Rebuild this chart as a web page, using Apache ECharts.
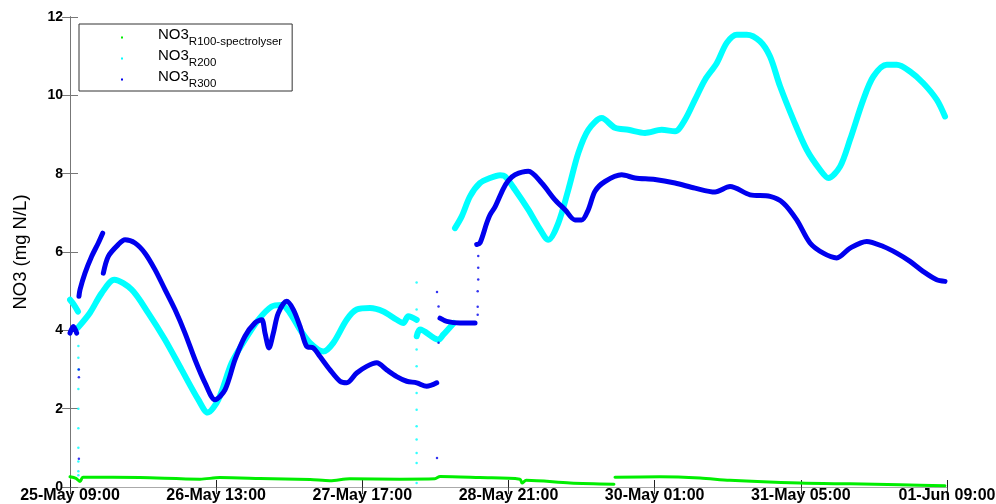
<!DOCTYPE html>
<html>
<head>
<meta charset="utf-8">
<script src="https://cdn.jsdelivr.net/npm/echarts@6/dist/echarts.min.js"></script>
<style>html,body{margin:0;padding:0;background:#fff;}#c{width:996px;height:504px;}</style>
</head>
<body>
<div id="c"></div>
<script>
// x values: hours after 25-May 09:00
const xTickLabels = ['25-May 09:00','26-May 13:00','27-May 17:00','28-May 21:00','30-May 01:00','31-May 05:00','01-Jun 09:00'];
const yTicks = [0, 2, 4, 6, 8, 10, 12];

// NO3 R100-spectrolyser (null = gap)
const r100 = [
  [0,0.26],[1.15,0.22],[1.92,0.14],[2.49,0.25],[13.4,0.24],[24.9,0.20],[28.7,0.24],[36.4,0.22],
  [46,0.19],[49.8,0.16],[53.6,0.21],[63.2,0.20],[69.9,0.21],[70.9,0.27],[78.5,0.24],[86.2,0.20],
  [86.6,0.10],[87.4,0.17],[95.8,0.10],[104.2,0.07],
  null,
  [104.4,0.25],[113,0.26],[120.7,0.23],[126.4,0.17],[139.8,0.10],[149.4,0.08],[159,0.06],[167.6,0.03]
];

// NO3 R200
const r200 = [
  [0,4.78],[0.77,4.65],[1.53,4.48],
  null,
  [1.53,4.07],[3.83,4.45],[6.07,4.95],[8.49,5.29],[11.82,5.04],[15.0,4.44],[18.2,3.76],[21.4,2.99],
  [24.58,2.23],[26.38,1.90],[28.41,2.23],[30.98,3.17],[33.52,3.76],[36.07,4.27],[38.64,4.61],[40.56,4.65],
  [42.15,4.44],[44.06,4.02],[45.98,3.68],[48.52,3.46],[50.44,3.68],[53.0,4.27],[54.92,4.53],[57.47,4.57],
  [60.02,4.48],[62.59,4.27],[63.85,4.19],[64.81,4.36],[66.42,4.27],
  null,
  [66.42,3.85],[67.05,4.02],[70.55,3.76],[71.51,3.89],[73.52,4.19],
  null,
  [73.75,6.61],[75.04,6.91],[76.63,7.42],[78.54,7.76],[80.46,7.89],[82.38,7.96],[83.33,7.93],[85.25,7.59],
  [87.8,7.08],[89.71,6.65],[91.63,6.31],[93.54,6.74],[95.46,7.59],[97.38,8.53],[99.29,9.12],[101.86,9.42],
  [104.4,9.17],[106.95,9.12],[110.15,9.04],[113.35,9.12],[115.9,9.08],[117.82,9.38],[119.73,9.89],[121.65,10.40],
  [123.89,10.82],[125.8,11.34],[127.72,11.55],[129.64,11.55],[132.18,11.38],[134.1,10.99],[136.02,10.23],
  [138.56,9.38],[141.13,8.61],[143.68,8.10],[145.27,7.89],[147.51,8.18],[149.43,8.87],[151.97,9.89],
  [153.89,10.48],[156.46,10.78],[158.37,10.78],[160.92,10.61],[163.47,10.31],[166.03,9.89],[167.62,9.46]
];

// NO3 R300
const r300 = [
  [0,3.93],[0.64,4.10],[1.28,3.93],
  null,
  [1.72,4.87],[1.92,5.04],[2.87,5.46],[4.16,5.89],[5.42,6.23],[6.26,6.48],
  null,
  [6.38,5.46],[7.34,5.89],[9.25,6.19],[10.54,6.31],[12.45,6.23],[14.37,5.97],[16.28,5.55],[18.2,5.04],
  [20.11,4.53],[22.03,3.93],[23.95,3.25],[25.86,2.66],[27.78,2.23],[29.69,2.48],[31.61,3.25],[33.52,3.85],
  [35.44,4.19],[36.72,4.27],[37.36,3.93],[38.12,3.55],[38.95,3.93],[39.9,4.44],[41.51,4.74],[42.78,4.53],
  [44.06,4.10],[45.34,3.59],[46.61,3.55],[47.89,3.33],[49.81,2.99],[51.72,2.70],[53.0,2.66],[54.92,2.91],
  [56.84,3.08],[58.76,3.17],[60.67,2.99],[62.59,2.82],[64.5,2.70],[66.42,2.66],[68.33,2.57],[70.25,2.66],
  null,
  [70.88,4.31],[72.16,4.23],[74.71,4.19],[77.59,4.19],
  null,
  [77.91,6.19],[78.54,6.23],[79.83,6.74],[80.46,6.95],[81.42,7.15],[82.95,7.6],[83.97,7.82],[85.25,7.97],
  [87.8,8.06],[90.36,7.76],[92.91,7.33],[94.83,7.08],[96.74,6.82],[98.02,6.82],[99.29,7.08],[100.57,7.55],
  [102.49,7.80],[105.68,7.97],[108.24,7.89],[112.07,7.85],[115.9,7.76],[119.73,7.63],[123.56,7.53],
  [126.44,7.67],[130.27,7.46],[134.1,7.42],[136.65,7.25],[139.21,6.82],[141.76,6.23],[144.31,5.97],
  [146.88,5.85],[149.43,6.10],[152.62,6.27],[155.81,6.14],[158.37,5.97],[160.92,5.76],[163.47,5.50],
  [166.03,5.29],[167.62,5.25]
];

// sparse transition samples
const r200Dots = [
  [1.6,3.6],[1.6,3.3],[1.6,3.0],[1.6,2.5],[1.6,2.0],[1.6,1.5],[1.6,1.0],[1.6,0.65],[1.6,0.4],[1.6,0.3],
  [66.4,5.22],[66.4,4.53],[66.4,3.51],[66.4,3.08],[66.4,2.66],[66.4,2.40],[66.4,1.97],[66.4,1.55],
  [66.4,1.21],[66.4,0.87],[66.4,0.61],[66.4,0.10]
];
const r300Dots = [
  [1.7,3.0],[1.7,2.8],[1.7,0.72],
  [70.3,4.98],[70.6,4.61],[70.6,3.68],[70.3,0.74],
  [78.2,5.9],[78.2,5.6],[78.2,5.3],[78.1,5.0],[78.1,4.6],[78.1,4.4]
];

const seriesDefs = [
  { name: 'NO3_R100-spectrolyser', data: r100, color: '#00ee00', width: 3 },
  { name: 'NO3_R200', data: r200, color: '#00ffff', width: 6 },
  { name: 'NO3_R300', data: r300, color: '#0000ee', width: 5 }
];

function splitSegs(arr) {
  const segs = [[]];
  arr.forEach(p => { if (p === null) segs.push([]); else segs[segs.length - 1].push(p); });
  return segs;
}

const series = [];
seriesDefs.forEach((d, i) => {
  splitSegs(d.data).forEach(seg => {
    series.push({
      type: 'line', name: d.name, data: seg, symbol: 'none', showSymbol: false,
      smooth: 0.3, z: 2 + i,
      lineStyle: { color: d.color, width: d.width, cap: 'round', join: 'round' },
      itemStyle: { color: d.color }
    });
  });
});
series.push({ type: 'scatter', name: 'r200dots', data: r200Dots, symbolSize: 2.5, itemStyle: { color: '#00ffff' }, z: 3 });
series.push({ type: 'scatter', name: 'r300dots', data: r300Dots, symbolSize: 2.5, itemStyle: { color: '#0000ee' }, z: 4 });

const fam = 'Liberation Sans, Arial, sans-serif';

const chart = echarts.init(document.getElementById('c'), null, { renderer: 'canvas' });
chart.setOption({
  animation: false,
  backgroundColor: '#fff',
  grid: { left: 70, right: 49, top: 17, bottom: 17, containLabel: false, outerBoundsMode: 'none' },
  legend: {
    data: seriesDefs.map(d => ({ name: d.name, icon: 'rect' })),
    orient: 'vertical', left: 79, top: 24,
    padding: [3, 10, 1, 42], itemGap: 0,
    itemWidth: 2, itemHeight: 2,
    borderColor: '#333', borderWidth: 1, backgroundColor: '#fff',
    selectedMode: false,
    formatter: name => '{sp|}{a|NO3}{b|' + name.split('_')[1] + '}',
    textStyle: {
      rich: {
        sp: { width: 30 },
        a: { fontSize: 15, fontFamily: fam, color: '#000', verticalAlign: 'bottom', padding: [0, 0, 6, 0] },
        b: { fontSize: 11.5, fontFamily: fam, color: '#000', verticalAlign: 'bottom' }
      }
    }
  },
  xAxis: [
    {
      type: 'value', min: 0, max: 168, interval: 28, position: 'bottom',
      axisLine: { lineStyle: { color: '#222', width: 1 } },
      axisTick: { inside: true, length: 7, lineStyle: { color: '#222' } },
      splitLine: { show: false },
      axisLabel: { margin: 1, showMinLabel: true, showMaxLabel: true,
        fontFamily: fam, fontWeight: 'bold', fontSize: 16, color: '#000',
        formatter: v => xTickLabels[Math.round(v / 28)] }
    },
    {
      type: 'value', min: 0, max: 168, interval: 28, position: 'top',
      axisLine: { lineStyle: { color: '#aaa', width: 1 } },
      axisTick: { inside: true, length: 7, lineStyle: { color: '#444' } },
      splitLine: { show: false }, axisLabel: { show: false }
    }
  ],
  yAxis: [
    {
      type: 'value', min: 0, max: 12, interval: 2, position: 'left',
      name: 'NO3 (mg N/L)', nameLocation: 'middle', nameGap: 40, nameRotate: 90,
      nameTextStyle: { fontFamily: fam, fontSize: 18.5, color: '#000' },
      axisLine: { show: true, lineStyle: { color: '#222', width: 1 } },
      axisTick: { show: true, inside: true, length: 8, lineStyle: { color: '#777' } },
      splitLine: { show: false },
      axisLabel: { margin: 7, fontFamily: fam, fontWeight: 'bold', fontSize: 14, color: '#000',
        formatter: v => String(yTicks[Math.round(v / 2)]) }
    },
    {
      type: 'value', min: 0, max: 12, interval: 2, position: 'right',
      axisLine: { show: true, lineStyle: { color: '#777', width: 1 } },
      axisTick: { show: true, inside: true, length: 8, lineStyle: { color: '#777' } },
      splitLine: { show: false }, axisLabel: { show: false }
    }
  ],
  series: series
});
</script>
</body>
</html>
